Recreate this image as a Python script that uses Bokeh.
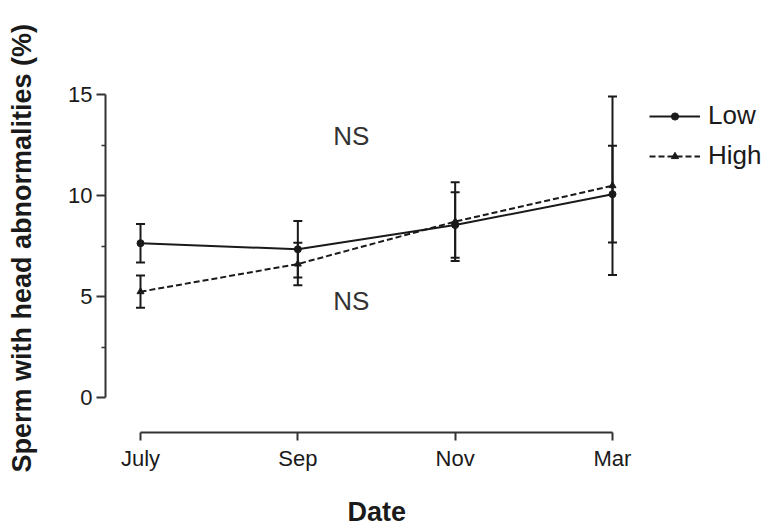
from bokeh.plotting import figure
from bokeh.models import (ColumnDataSource, FixedTicker, Whisker, TeeHead, Legend,
                          LegendItem, Label, Range1d, Title)
from bokeh.embed import file_html
from bokeh.resources import INLINE

# ---- data ----
dates = ["July", "Sep", "Nov", "Mar"]
x_pos = [0, 1, 2, 3]
low_mean = [7.65, 7.35, 8.55, 10.08]
low_err = [0.95, 1.40, 1.62, 2.40]
high_mean = [5.25, 6.62, 8.72, 10.50]
high_err = [0.80, 1.05, 1.95, 4.42]
y_ticks = [0, 5, 10, 15]
y_minor = [2.5, 7.5, 12.5]
ns_labels = ["NS", "NS"]
ns_x = [1.34, 1.34]
ns_y = [12.96, 4.78]

FONT = "Liberation Sans"
INK = "#1a1a1a"

src = ColumnDataSource(dict(
    x=x_pos,
    low=low_mean,
    low_up=[m + e for m, e in zip(low_mean, low_err)],
    low_lo=[m - e for m, e in zip(low_mean, low_err)],
    high=high_mean,
    high_up=[m + e for m, e in zip(high_mean, high_err)],
    high_lo=[m - e for m, e in zip(high_mean, high_err)],
))

p = figure(width=768, height=530, output_backend="svg", toolbar_location=None,
           x_range=Range1d(-0.2225, 3.9916), y_range=Range1d(-1.724, 16.897),
           min_border_left=105, min_border_right=0, min_border_top=56,
           min_border_bottom=96)
p.outline_line_color = None
p.grid.visible = False
p.background_fill_color = "white"
p.border_fill_color = "white"

# axes
xa = p.xaxis[0]
xa.ticker = FixedTicker(ticks=x_pos, minor_ticks=[])
xa.major_label_overrides = {x: d for x, d in zip(x_pos, dates)}
xa.bounds = (x_pos[0], x_pos[-1])
ya = p.yaxis[0]
ya.ticker = FixedTicker(ticks=y_ticks, minor_ticks=y_minor)
ya.bounds = (y_ticks[0], y_ticks[-1])
ya.axis_label = "Sperm with head abnormalities  (%)"

for ax in (xa, ya):
    ax.axis_line_width = 2
    ax.axis_line_color = "#333333"
    ax.major_tick_line_width = 2
    ax.major_tick_line_color = "#333333"
    ax.minor_tick_line_width = 1.5
    ax.minor_tick_line_color = "#333333"
    ax.major_tick_in = 0
    ax.minor_tick_in = 0
    ax.major_label_text_font = FONT
    ax.major_label_text_font_size = "22px"
    ax.major_label_text_color = INK
    ax.axis_label_text_font = FONT
    ax.axis_label_text_font_style = "bold"
    ax.axis_label_text_font_size = "27px"
    ax.axis_label_text_color = INK

xa.major_tick_out = 8
xa.major_label_standoff = 5
# blank spacer label to push the "Date" title down
xa.axis_label = " "
xa.axis_label_text_font_size = "10px"
xa.axis_label_standoff = 4
ya.major_tick_out = 9
ya.minor_tick_out = 4
ya.major_label_standoff = 4
ya.axis_label_standoff = 28

# x-axis title, centred under the July..Mar span
p.add_layout(Title(text="Date", align="left", offset=242, standoff=7,
                   text_font=FONT, text_font_style="bold",
                   text_font_size="27px", text_color=INK), "below")

# lines
low_line = p.line("x", "low", source=src, line_color=INK, line_width=2)
high_line = p.line("x", "high", source=src, line_color=INK, line_width=2,
                   line_dash="6 3")

# error bars
for up, lo in (("low_up", "low_lo"), ("high_up", "high_lo")):
    w = Whisker(source=src, base="x", upper=up, lower=lo,
                line_color=INK, line_width=2,
                upper_head=TeeHead(size=9, line_width=2, line_color=INK),
                lower_head=TeeHead(size=9, line_width=2, line_color=INK))
    p.add_layout(w)

low_pts = p.scatter("x", "low", source=src, marker="circle", size=7,
                    fill_color=INK, line_color=INK)
high_pts = p.scatter("x", "high", source=src, marker="triangle", size=7,
                     fill_color=INK, line_color=INK)

# NS annotations
for t, x, y in zip(ns_labels, ns_x, ns_y):
    p.add_layout(Label(x=x, y=y, text=t, text_align="center",
                       text_baseline="middle", text_font=FONT,
                       text_font_size="26px", text_color="#333333"))

legend = Legend(items=[LegendItem(label="Low", renderers=[low_line, low_pts]),
                       LegendItem(label="High", renderers=[high_line, high_pts])],
                location=(544, 261), padding=0, margin=0, spacing=9,
                glyph_width=51, glyph_height=18, label_height=30,
                label_standoff=8, label_text_font=FONT,
                label_text_font_size="26px", label_text_color=INK,
                border_line_color=None, background_fill_alpha=0)
p.add_layout(legend)

open("out.html", "w").write(file_html(p, INLINE))
